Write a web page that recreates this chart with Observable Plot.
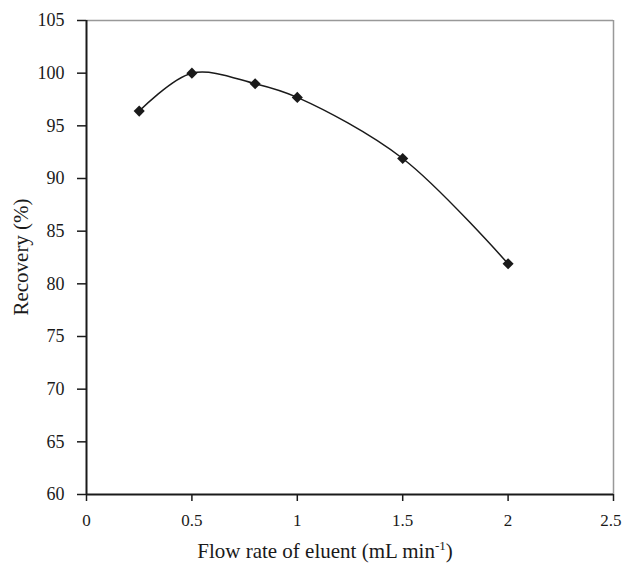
<!DOCTYPE html>
<html><head><meta charset="utf-8">
<script src="https://cdn.jsdelivr.net/npm/d3@7"></script>
<script src="https://cdn.jsdelivr.net/npm/@observablehq/plot@0.6"></script>
<style>body{margin:0;background:#fff}svg{font-family:"Liberation Serif","Times New Roman",serif}</style>
</head><body><div id="chart"></div>
<script>
const flowRate = [0.25, 0.5, 0.8, 1.0, 1.5, 2.0];
const recovery = [96.4, 100.0, 99.0, 97.7, 91.9, 81.9];
const xTicks = [0, 0.5, 1, 1.5, 2, 2.5];
const yTicks = [60, 65, 70, 75, 80, 85, 90, 95, 100, 105];
const xLabelMain = "Flow rate of eluent (mL min";
const xLabelSup = "-1";
const yLabel = "Recovery (%)";

const data = flowRate.map((x, i) => ({x, y: recovery[i]}));
const W = 623, H = 566, ml = 86, mr = 10, mt = 20, mb = 72;
const xTickLast = xTicks.slice(-1);

const plot = Plot.plot({
  width: W, height: H,
  marginLeft: ml, marginRight: mr, marginTop: mt, marginBottom: mb,
  style: {fontFamily: '"Liberation Serif","Times New Roman",serif', fontSize: "18px", color: "#1a1a1a", background: "#fff"},
  x: {domain: [0, 2.5], ticks: xTicks, tickFormat: d => String(d), label: null},
  y: {domain: [60, 105], ticks: yTicks, tickFormat: d => String(d), label: null},
  marks: [
    Plot.ruleY([105], {stroke: "#999", strokeWidth: 1.5}),
    Plot.ruleX([2.5], {stroke: "#999", strokeWidth: 1.5}),
    Plot.axisX({ticks: xTicks, tickSize: 7, tickPadding: 12, tickFormat: d => (d === 2.5 ? "" : String(d)), fontSize: 17, label: null, stroke: "#1a1a1a", strokeWidth: 1.5}),
    Plot.axisX({ticks: xTickLast, tickSize: 0, tickPadding: 19, tickFormat: d => String(d), fontSize: 17, label: null, textAnchor: "end", dx: 8}),
    Plot.axisY({ticks: yTicks, tickSize: 9, tickPadding: 13, tickFormat: d => String(d), fontSize: 18, label: null, stroke: "#1a1a1a", strokeWidth: 1.5}),
    Plot.ruleX([0], {stroke: "#1a1a1a", strokeWidth: 2}),
    Plot.ruleY([60], {stroke: "#1a1a1a", strokeWidth: 2}),
    Plot.line(data, {x: "x", y: "y", curve: "catmull-rom", stroke: "#1a1a1a", strokeWidth: 1.5}),
    Plot.dot(data, {x: "x", y: "y", symbol: "diamond2", r: 5, fill: "#1a1a1a", stroke: "none"})
  ]
});
document.getElementById("chart").appendChild(plot);

const svg = d3.select(plot);
const t = svg.append("text")
  .attr("x", 325).attr("y", 558)
  .attr("text-anchor", "middle").attr("font-size", 21).attr("fill", "#1a1a1a");
t.append("tspan").text(xLabelMain);
t.append("tspan").text(xLabelSup).attr("font-size", 13).attr("dy", -8);
t.append("tspan").text(")").attr("dy", 8);

svg.append("text")
  .attr("transform", `translate(28,${mt + (H - mt - mb) / 2}) rotate(-90)`)
  .attr("text-anchor", "middle").attr("font-size", 21).attr("fill", "#1a1a1a")
  .text(yLabel);
</script></body></html>
